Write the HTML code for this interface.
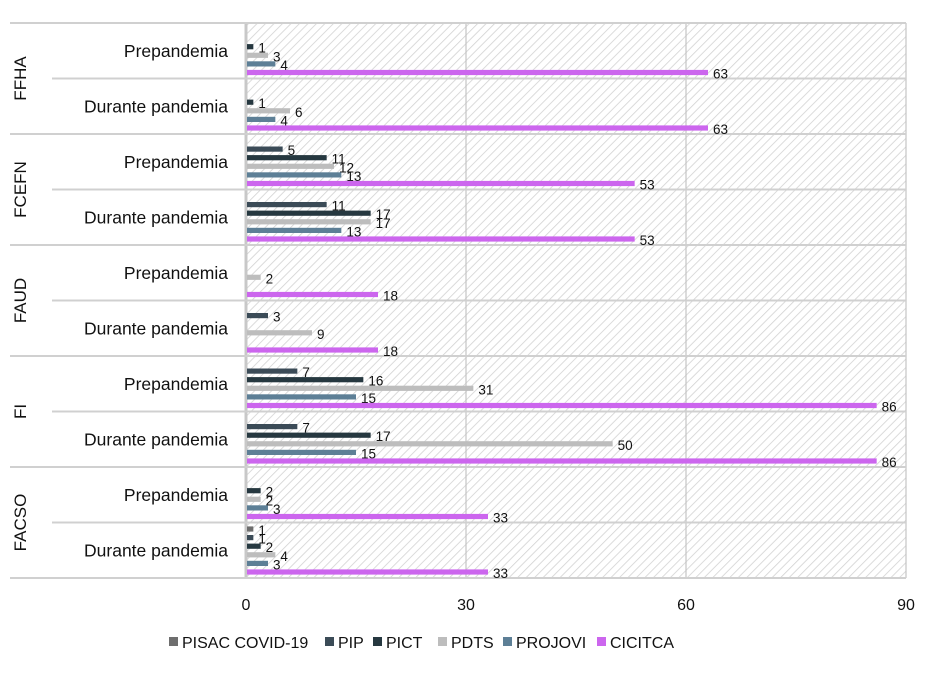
<!DOCTYPE html>
<html><head><meta charset="utf-8"><style>
body{margin:0;background:#fff;font-family:"Liberation Sans",sans-serif}
svg text{font-family:"Liberation Sans",sans-serif;fill:#111}
</style></head><body>
<svg id="c" width="940" height="674">
<defs><pattern id="hatch" width="6" height="6" patternUnits="userSpaceOnUse" patternTransform="rotate(45)"><rect width="6" height="6" fill="#fff"/><line x1="0" y1="0" x2="0" y2="6" stroke="#d2d2d2" stroke-width="1.6"/></pattern></defs>
</svg>
<script>
const faculties=["FFHA","FCEFN","FAUD","FI","FACSO"];
const periods=["Prepandemia","Durante pandemia"];
const series=["PISAC COVID-19","PIP","PICT","PDTS","PROJOVI","CICITCA"];
const colors=["#6e6e6e","#3b4b57","#263840","#bdbdbd","#5d7f96","#cc66ee"];
const pisac=[0,0, 0,0, 0,0, 0,0, 0,1];
const pip=[0,0, 5,11, 0,3, 7,7, 0,1];
const pict=[1,1, 11,17, 0,0, 16,17, 2,2];
const pdts=[3,6, 12,17, 2,9, 31,50, 2,4];
const projovi=[4,4, 13,13, 0,0, 15,15, 3,3];
const cicitca=[63,63, 53,53, 18,18, 86,86, 33,33];
const xTicks=[0,30,60,90];
const values=[pisac,pip,pict,pdts,projovi,cicitca];
const svg=document.getElementById('c');const NS="http://www.w3.org/2000/svg";
const L=246,R=906,T=23,B=578,max=90;
const x=v=>L+(R-L)*v/max;
const rowH=(B-T)/(faculties.length*periods.length);
const y=i=>T+i*rowH;
function el(t,a,p){const e=document.createElementNS(NS,t);for(const k in a)e.setAttribute(k,a[k]);(p||svg).appendChild(e);return e;}
const bg=el('rect',{x:L,y:T,width:R-L,height:B-T,fill:'url(#hatch)'});


xTicks.forEach(t=>{
 const g=el('line',{x1:x(t),x2:x(t),y1:T,y2:B,stroke:t===0?'#c8c8c8':'#c4c4c4','stroke-width':t===0?3:1.2});
 
 
 const tx=el('text',{x:x(t),y:610,'text-anchor':'middle','font-size':16});tx.textContent=t;
 
 
});
for(let i=0;i<=faculties.length*periods.length;i++){
 const major=i%2===0;
 const ln=el('line',{x1:major?10:52,x2:R,y1:y(i),y2:y(i),stroke:'#d0d0d0','stroke-width':2});
 
 
}
faculties.forEach((f,fi)=>{
 const cy=y(fi*2+1);
 const t=el('text',{x:0,y:0,'text-anchor':'middle','font-size':17,transform:`translate(26,${cy}) rotate(-90)`});t.textContent=f;
 
 
 periods.forEach((p,pi)=>{
  const r=fi*2+pi;
  const pt=el('text',{x:228,y:y(r)+rowH/2+6,'text-anchor':'end','font-size':17.5});pt.textContent=p;
  
  
  series.forEach((s,si)=>{
   const v=values[si][r];if(!v)return;
   const cyb=y(r)+6.5+si*8.6;
   const b=el('rect',{x:L+1,y:cyb-2.6,width:x(v)-L-1,height:5.2,fill:colors[si]});
   
   
   const lt=el('text',{x:x(v)+5,y:cyb+6,'font-size':13.5});lt.textContent=v;
   
   
  });
 });
});
const legX=[169,325,373,438,503,597];
series.forEach((s,i)=>{
 const r=el('rect',{x:legX[i],y:637,width:9,height:9,fill:colors[i]});
 
 
 const t=el('text',{x:legX[i]+13,y:648,'font-size':16});t.textContent=s;
 
 
});
</script>
</body></html>
